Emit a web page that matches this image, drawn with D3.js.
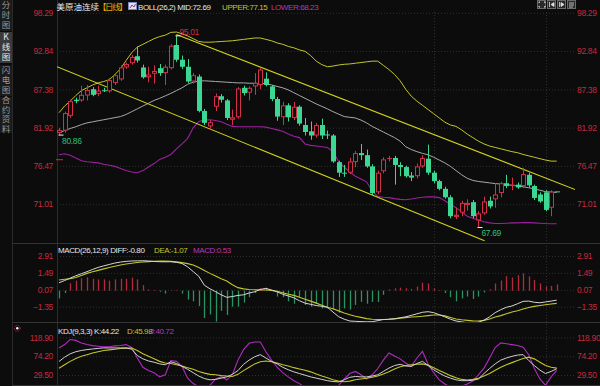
<!DOCTYPE html>
<html lang="zh">
<head>
<meta charset="UTF-8">
<title>美原油连续 日线</title>
<script src="https://d3js.org/d3.v7.min.js"></script>
<style>
  html, body { margin: 0; padding: 0; background: #0c0c0c; }
  svg { display: block; }
  text { font-family: "Liberation Sans", Arial, sans-serif; font-size: 8.5px; letter-spacing: -0.35px; }
  .ttl { font-size: 8px; letter-spacing: -0.4px; }
  .cjk { font-family: "Noto Sans CJK SC", sans-serif; letter-spacing: 0; }
  .vert { writing-mode: vertical-rl; text-orientation: upright; }
  .lbl .tick text { fill: #c8283c; }
  .lbl path, .lbl line { display: none; }
  .grid line { stroke: #2e2e2e; stroke-dasharray: 1,2; }
  .grid path { display: none; }
</style>
</head>
<body>
<svg id="chart" width="600" height="386"></svg>
<script>
// tick labels
const priceTicks = [98.29, 92.84, 87.38, 81.92, 76.47, 71.01];
const macdTicks = [2.91, 1.49, 0.07, -1.35];
const kdjTicks = [118.90, 74.20, 29.50];

// daily candles
const openP = [81.15,81.5,83.6,85.9,85.8,86.5,87.4,86.7,87.25,87.1, 88.3,88.8,90.5,91.1,92.1,90.5,89.1,89.6,90.4,89.7,
  90.4,93.7,91.6,90.6,88.5,89.2,84.3,82.1,84.9,86.4, 85.8,83.05,83.4,87.6,86.9,87.8,88.0,88.9,87.8,86.0,
  83.4,85.1,83.3,84.9,82.3,81.4,80.8,82.3,80.95,80.8, 77.0,75.5,75.5,77.0,78.3,78.0,76.4,72.7,75.7,77.5,
  77.6,76.6,76.3,75.1,75.0,76.4,77.5,75.5,74.3,73.2, 72.0,69.2,69.8,70.9,71.3,68.7,69.7,71.5,71.7,72.6,
  74.0,73.6,73.8,73.6,75.2,73.6,72.4,72.7,70.5,72.84];
const highP = [81.9,84.2,85.9,86.2,87.9,88.0,87.7,87.9,87.6,89.0, 89.6,90.8,91.2,92.3,93.5,90.9,90.6,90.8,91.0,90.9,
  93.8,95.01,92.2,91.7,89.7,89.5,84.6,83.0,86.8,86.7, 86.0,84.5,87.7,87.9,87.8,89.7,90.4,89.8,88.0,86.3,
  85.6,85.4,85.6,85.1,83.3,82.8,82.6,83.2,81.5,81.0, 77.2,76.6,77.6,78.6,79.6,78.8,76.7,75.8,77.7,77.9,
  77.9,77.0,76.5,75.6,76.8,78.0,79.5,75.8,74.5,73.5, 72.3,70.5,71.5,71.7,71.6,70.0,72.1,72.1,74.0,74.2,
  75.2,74.8,74.1,76.2,75.5,73.8,72.7,73.0,73.0,72.84];
const lowP = [80.86,81.2,83.3,85.4,85.6,85.8,86.4,86.4,87.0,86.9, 88.0,88.6,90.3,90.9,91.2,88.9,88.4,88.2,89.3,88.0,
  90.2,91.3,90.3,88.3,88.2,84.1,82.3,81.7,84.3,85.5, 83.0,82.3,83.2,86.5,85.8,86.6,87.4,87.8,85.7,82.9,
  82.3,82.8,83.0,82.2,80.8,80.2,80.5,80.3,80.3,76.9, 74.9,74.9,75.3,76.3,77.3,76.2,72.3,72.4,75.4,77.1,
  73.8,75.0,74.8,74.3,74.7,76.2,75.2,74.0,73.0,71.8, 69.0,68.9,69.3,70.1,69.0,67.69,69.5,70.4,70.5,72.0,
  73.3,73.0,73.2,73.3,73.4,71.6,71.2,70.0,69.3,72.84];
const closeP = [81.6,84.0,85.7,85.7,86.6,87.3,86.6,87.2,87.15,88.7, 89.4,90.5,91.0,92.0,91.5,89.1,89.5,90.0,89.7,90.6,
  93.6,91.6,90.6,88.5,89.4,84.3,82.6,82.7,86.4,85.9, 83.3,83.4,87.5,86.85,87.6,88.3,90.2,88.0,86.0,83.5,
  85.1,83.4,84.9,82.5,81.3,80.8,82.3,80.8,80.85,77.1, 75.5,75.4,77.1,78.3,78.0,76.4,72.6,75.5,77.4,77.6,
  76.6,76.3,75.0,74.8,76.4,77.6,75.5,74.3,73.2,72.0, 69.3,69.5,71.2,71.2,69.3,69.7,71.4,70.7,72.4,74.0,
  73.6,73.8,73.4,75.3,73.7,71.9,71.4,70.2,72.8,72.84];

// BOLL(26,2)
const bollUpper = [84.05,85.0,85.7,86.5,87.2,87.6,88.0,88.3,88.5,88.75, 89.5,90.3,91.5,92.6,93.4,93.8,94.2,94.6,94.9,95.1,
  95.5,95.55,95.3,95.0,94.6,94.2,94.1,94.1,94.15,94.2, 94.25,94.3,94.4,94.5,94.6,94.7,94.7,94.5,94.3,94.0,
  93.8,93.5,93.3,93.0,92.8,92.2,91.4,90.9,90.6,90.7, 90.85,90.95,91.0,91.1,91.2,91.3,91.4,91.4,90.8,90.2,
  89.5,88.6,87.4,86.4,85.7,85.1,84.5,83.9,83.3,82.7, 82.3,82.1,81.6,81.0,80.5,80.0,79.6,79.3,79.1,78.9,
  78.7,78.5,78.35,78.1,77.9,77.7,77.5,77.3,77.15,77.15];
const bollMid = [81.2,81.5,81.8,82.05,82.35,82.6,82.75,82.9,83.05,83.2, 83.35,83.5,83.8,84.2,84.6,85.0,85.4,85.8,86.1,86.45,
  86.8,87.2,87.6,88.1,88.4,88.55,88.6,88.55,88.5,88.45, 88.4,88.35,88.3,88.3,88.25,88.25,88.2,88.2,88.0,87.8,
  87.6,87.3,86.9,86.5,86.1,85.7,85.3,84.95,84.6,84.2, 83.85,83.5,83.4,83.3,83.0,82.6,82.1,81.7,81.3,80.9,
  80.5,80.0,79.2,78.8,78.5,78.25,78.05,77.7,77.3,76.9, 76.4,75.8,75.2,74.7,74.4,74.25,74.15,74.05,73.95,73.88,
  73.8,73.7,73.6,73.5,73.35,73.2,73.0,72.8,72.74,72.69];
const bollLower = [78.05,78.2,78.0,77.6,77.2,77.05,77.0,76.9,76.7,76.55, 76.4,76.1,75.8,75.6,75.5,75.8,76.3,76.8,77.4,77.7,
  78.1,78.9,79.6,80.4,81.9,82.8,83.0,83.05,82.95,82.75, 82.4,82.1,82.05,82.05,82.05,82.05,82.05,82.0,81.8,81.6,
  81.4,81.0,80.7,80.5,79.6,79.4,79.3,79.2,79.1,78.5, 77.1,76.3,75.6,75.0,74.6,74.2,72.9,72.1,72.0,71.95,
  71.8,71.7,71.65,71.75,71.9,72.0,72.05,72.05,71.95,71.5, 71.0,70.5,69.95,69.3,69.0,68.75,68.5,68.35,68.25,68.25,
  68.3,68.35,68.35,68.4,68.38,68.35,68.3,68.25,68.23,68.23];

// trend channel, [candle index, price] end points
const channelUpper = [[21, 95.2], [92.3, 73.1]];
const channelLower = [[-0.36, 90.6], [76.1, 65.8]];

// labelled extremes
const extremes = [
  { i: 21, v: 95.01, up: true },
  { i: 0, v: 80.86, up: false },
  { i: 75, v: 67.69, up: false }
];
const refMark = 77.35;      // small red tick on the left edge
const periodMarks = [67, 87]; // vertical dotted separators

// MACD(26,12,9)
const diffLine = [0.66,0.85,1.05,1.25,1.42,1.59,1.78,1.95,2.08,2.2, 2.32,2.4,2.46,2.49,2.5,2.51,2.49,2.45,2.43,2.42,
  2.43,2.38,2.28,2.0,1.6,1.2,0.45,0.15,-0.09,-0.35, -0.56,-0.5,-0.4,-0.35,-0.2,-0.09,0.1,0.19,0.05,-0.1,
  -0.3,-0.45,-0.6,-0.85,-1.05,-1.15,-1.25,-1.32,-1.4,-1.8, -2.19,-2.4,-2.55,-2.58,-2.6,-2.62,-2.61,-2.52,-2.43,-2.4,
  -2.36,-2.28,-2.2,-2.08,-1.95,-1.82,-1.77,-1.85,-2.02,-2.2, -2.4,-2.55,-2.62,-2.7,-2.75,-2.65,-2.48,-2.2,-1.85,-1.6,
  -1.4,-1.29,-1.1,-0.9,-0.88,-0.98,-1.02,-0.95,-0.88,-0.80];
const deaLine = [0.89,0.95,1.0,1.1,1.28,1.45,1.58,1.7,1.83,1.95, 2.05,2.15,2.24,2.3,2.36,2.41,2.44,2.47,2.48,2.49,
  2.46,2.42,2.35,2.27,2.15,1.95,1.7,1.45,1.22,1.0, 0.8,0.5,0.25,0.15,0.1,0.07,0.06,0.05,0.02,-0.05,
  -0.18,-0.3,-0.4,-0.55,-0.72,-0.88,-1.05,-1.22,-1.4,-1.52, -1.7,-1.88,-2.02,-2.15,-2.25,-2.35,-2.41,-2.42,-2.42,-2.41,
  -2.37,-2.32,-2.27,-2.22,-2.19,-2.15,-2.1,-2.05,-2.05,-2.12, -2.25,-2.38,-2.45,-2.5,-2.54,-2.55,-2.5,-2.38,-2.22,-2.1,
  -1.95,-1.8,-1.69,-1.55,-1.42,-1.32,-1.25,-1.18,-1.12,-1.07];
const macdHist = [-0.65,-0.2,0.62,0.84,1.04,1.12,1.0,0.95,0.95,0.84, 0.95,1.0,1.0,1.1,0.95,0.47,0.1,0.06,-0.1,-0.25,
  0.05,0.05,-0.25,-0.75,-0.9,-1.3,-2.3,-2.0,-2.6,-1.7, -2.05,-1.35,-1.35,-1.0,-0.55,-0.2,0.2,0.25,0.05,-0.5,
  -0.55,-0.9,-1.1,-0.55,-1.2,-1.35,-1.05,-1.5,-1.5,-1.6, -1.85,-1.5,-1.6,-1.2,-0.95,-1.1,-0.95,-0.95,-0.35,0.1,
  0.2,0.25,0.2,0.15,0.35,0.67,0.6,0.2,0.05,-0.2, -0.55,-0.9,-0.65,-0.5,-0.7,-0.5,-0.15,0.1,0.6,0.85,
  1.22,1.1,1.3,1.45,1.2,0.9,0.6,0.35,0.4,0.53];

// KDJ(9,3,3)
const kLine = [61.7,72,80,85,88,90,91.5,93,94,94, 94,94,94,91,76,68,63,60,56,54,
  61,57,50,43,35,27,21,18,19,22, 25,31,40,55,65,73,78,70,62,56,
  48,42,37,33,29,25,22,19,16,14, 13,18,24,26,25,25,27,30,38,46,
  52,55,51,50,57,62,52,42,34,27, 22,18,16,16,17,20,33,45,56,65,
  70,74,77,78,64,52,41,33,38,44.22];
const dLine = [45.7,54,62,69,74,78,82,85,88,89.5, 91,92.5,93.5,94,88,80,74,68,62,58,
  57,54,51,47,43,38,34,31,30,28, 27,26,31,40,48,56,61,63,61,58,
  54,51,47,44,41,37,32,27,23,18, 15,13.5,15,18,20,21.6,24,27,32,37,
  44,49,52,54,55,56,53,47,40,34, 28,23,19,17.5,19,21.6,27,33,41,48,
  54,59,64,69,72,68,60,52,48,45.98];
const jLine = [94,102,114,112,106,102,99.6,98,96.5,97, 99,100,102,95,70,48,40,35,25,30,
  64,62,50,22,9,2,-2,5,20,25, 18,30,65,90,105,108,108,85,65,48,
  35,25,16,9,0,-4,-6,-4,-3,0, 5,20,33,38,30,20,30,45,65,82,
  75,68,58,50,70,86,55,35,18,8, 1,-2,3,8,15,30,46,70,95,106,
  104,102,100,96,78,45,20,5,25,40.72];

const sideTabs = ["分时图", "K线图", "闪电图", "合约资料"];
const activeTab = 1;

// colours
const BG = "#0c0c0c", RED = "#d3304a", GREEN = "#3cd893";
const YEL = "#c4c42a", MIDC = "#a8a8a8", PUR = "#9a229c";

const svg = d3.select("#chart");
const plotL = 57, plotR = 575;

svg.append("rect").attr("width", 600).attr("height", 386).attr("fill", BG);

// scales
const x = d3.scaleLinear().domain([0, 89]).range([59, 556.7]);
const cx = i => Math.round(x(i)) + 0.5;
const y = d3.scaleLinear().domain([71.01, 98.29]).range([204.2, 12.8]);
const ym = d3.scaleLinear().domain([-1.35, 2.91]).range([306.7, 256]);
const yk = d3.scaleLinear().domain([29.5, 118.9]).range([375, 337.5]);

// clip regions
const defs = svg.append("defs");
[["cPrice", 12, 243], ["cMacd", 244, 322], ["cKdj", 323, 385]].forEach(([id, t, b]) => {
  defs.append("clipPath").attr("id", id).append("rect")
    .attr("x", plotL).attr("y", t).attr("width", plotR - plotL).attr("height", b - t);
});

// sidebar: vertical tab labels
const side = svg.append("g");
const tabTop = [0, 32, 65, 97], tabBot = [31, 63, 96, 133];
sideTabs.forEach((name, t) => {
  side.append("rect").attr("x", 0).attr("y", tabTop[t]).attr("width", 12)
    .attr("height", tabBot[t] - tabTop[t]).attr("fill", t === activeTab ? "#3a3a3a" : "#1b1b1b");
  const long = Array.from(name).length > 3;
  side.append("text").attr("class", "cjk vert")
    .attr("x", 6).attr("y", (tabTop[t] + tabBot[t]) / 2)
    .attr("text-anchor", "middle").attr("font-size", long ? 7.4 : 8)
    .style("letter-spacing", long ? "1.1px" : "1.6px")
    .attr("fill", t === activeTab ? "#e8e8e8" : "#9a9a9a").text(name);
});
svg.append("line").attr("x1", 12.5).attr("x2", 12.5).attr("y1", 0).attr("y2", 386).attr("stroke", "#2a2a2a");

// panel frames
svg.append("line").attr("x1", plotL + 0.5).attr("x2", plotL + 0.5).attr("y1", 0).attr("y2", 386).attr("stroke", "#2c2c2c");
[243.5, 322.5, 385.5].forEach(v => {
  svg.append("line").attr("x1", 12).attr("x2", 600).attr("y1", v).attr("y2", v).attr("stroke", "#333");
});

// grid lines
const gw = plotR - plotL;
svg.append("g").attr("class", "grid").attr("transform", `translate(${plotL},0)`)
  .call(d3.axisLeft(y).tickValues(priceTicks).tickSize(-gw).tickFormat(""));
svg.append("g").attr("class", "grid").attr("transform", `translate(${plotL},0)`)
  .call(d3.axisLeft(ym).tickValues(macdTicks).tickSize(-gw).tickFormat(""));
svg.append("g").attr("class", "grid").attr("transform", `translate(${plotL},0)`)
  .call(d3.axisLeft(yk).tickValues(kdjTicks).tickSize(-gw).tickFormat(""));
svg.append("g").selectAll("line").data(periodMarks).join("line")
  .attr("x1", d => cx(d)).attr("x2", d => cx(d)).attr("y1", 12).attr("y2", 385)
  .attr("stroke", "#2e2e2e").attr("stroke-dasharray", "1,2");

// axis labels, both sides
const f2 = d3.format(".2f");
[[y, priceTicks], [ym, macdTicks], [yk, kdjTicks]].forEach(([sc, tv]) => {
  svg.append("g").attr("class", "lbl").attr("transform", "translate(53,0)")
    .call(d3.axisLeft(sc).tickValues(tv).tickSize(0).tickPadding(0).tickFormat(f2));
  svg.append("g").attr("class", "lbl").attr("transform", "translate(577,0)")
    .call(d3.axisRight(sc).tickValues(tv).tickSize(0).tickPadding(0).tickFormat(f2));
});

// ---- price panel ----
const gp = svg.append("g").attr("clip-path", "url(#cPrice)");
const line = (sc) => d3.line().x((d, i) => x(i)).y(d => sc(d));

gp.append("path").attr("d", line(y)(bollUpper)).attr("fill", "none").attr("stroke", YEL).attr("stroke-width", 1);
gp.append("path").attr("d", line(y)(bollMid)).attr("fill", "none").attr("stroke", MIDC).attr("stroke-width", 1);
gp.append("path").attr("d", line(y)(bollLower)).attr("fill", "none").attr("stroke", PUR).attr("stroke-width", 1.1);

const chLine = d3.line().x(d => x(d[0])).y(d => y(d[1]));
[channelUpper, channelLower].forEach(c => {
  gp.append("path").attr("d", chLine(c)).attr("fill", "none").attr("stroke", "#d2d21c").attr("stroke-width", 1.1);
});

const candles = d3.range(openP.length).map(i => ({ i, o: openP[i], h: highP[i], l: lowP[i], c: closeP[i] }));
const up = d => d.c > d.o;
gp.append("g").selectAll("line").data(candles).join("line")
  .attr("x1", d => cx(d.i)).attr("x2", d => cx(d.i))
  .attr("y1", d => y(d.h)).attr("y2", d => y(d.l))
  .attr("stroke", d => up(d) ? RED : GREEN).attr("stroke-width", 1);
gp.append("g").selectAll("rect").data(candles).join("rect")
  .each(function (d) {
    const top = y(Math.max(d.o, d.c)), bot = y(Math.min(d.o, d.c));
    const h = bot - top;
    const r = d3.select(this);
    if (up(d) && h > 2) {
      r.attr("x", cx(d.i) - 2).attr("width", 4).attr("y", top + 0.5).attr("height", h - 1)
        .attr("fill", BG).attr("stroke", RED).attr("stroke-width", 1);
    } else {
      r.attr("x", cx(d.i) - 2.5).attr("width", 5).attr("y", top).attr("height", Math.max(1, h))
        .attr("fill", up(d) ? RED : GREEN);
    }
  });

// extremes
const ex = svg.append("g");
ex.selectAll("line").data(extremes).join("line")
  .attr("x1", d => cx(d.i) - 1).attr("x2", d => cx(d.i) + 4)
  .attr("y1", d => y(d.v)).attr("y2", d => y(d.v)).attr("stroke", "#f0f0f0").attr("stroke-width", 1);
ex.selectAll("text").data(extremes).join("text")
  .attr("x", d => x(d.i) + 3).attr("y", d => d.up ? y(d.v) - 1 : y(d.v) + 8.6)
  .attr("fill", d => d.up ? "#d8283f" : "#2fbf78").text(d => f2(d.v));
svg.append("line").attr("x1", 56).attr("x2", 63).attr("y1", y(refMark)).attr("y2", y(refMark))
  .attr("stroke", "#d8283f").attr("stroke-width", 1);

// ---- MACD panel ----
const gm = svg.append("g").attr("clip-path", "url(#cMacd)");
gm.append("g").selectAll("line").data(macdHist).join("line")
  .attr("x1", (d, i) => cx(i)).attr("x2", (d, i) => cx(i))
  .attr("y1", ym(0)).attr("y2", d => ym(d))
  .attr("stroke", d => d >= 0 ? "#b22a3c" : "#2a9460").attr("stroke-width", 1.3);
gm.append("path").attr("d", line(ym)(deaLine)).attr("fill", "none").attr("stroke", YEL).attr("stroke-width", 1.1);
gm.append("path").attr("d", line(ym)(diffLine)).attr("fill", "none").attr("stroke", "#d6d6d6").attr("stroke-width", 1);

// ---- KDJ panel ----
const gk = svg.append("g").attr("clip-path", "url(#cKdj)");
gk.append("path").attr("d", line(yk)(jLine)).attr("fill", "none").attr("stroke", "#b02cbf").attr("stroke-width", 1.1);
gk.append("path").attr("d", line(yk)(dLine)).attr("fill", "none").attr("stroke", YEL).attr("stroke-width", 1.1);
gk.append("path").attr("d", line(yk)(kLine)).attr("fill", "none").attr("stroke", "#d0d0d0").attr("stroke-width", 1);

// ---- titles ----
const title = (xx, yy, txt, col, cls) =>
  svg.append("text").attr("x", xx).attr("y", yy).attr("fill", col).attr("class", cls || "ttl").text(txt);
title(56.5, 9.5, "美原油连续", "#e6e6e6", "cjk").attr("font-size", 8);
title(98, 9.5, "【日线】", "#e8a800", "cjk").attr("font-size", 6.5).style("letter-spacing", "-1.5px");
// BOLL icon
svg.append("rect").attr("x", 128.5).attr("y", 2.5).attr("width", 8).attr("height", 7)
  .attr("fill", "#dfe4f4").attr("stroke", "#7a86c8");
svg.append("path").attr("d", "M130,8 L132,5 L134,7 L135.5,4").attr("fill", "none").attr("stroke", "#c0303c").attr("stroke-width", 1);
title(138, 9.5, "BOLL(26,2) MID:72.69", "#e6e6e6");
title(222, 9.5, "UPPER:77.15", YEL);
title(271, 9.5, "LOWER:68.23", "#b83ab8");

title(58, 252.5, "MACD(26,12,9) DIFF:-0.80", "#e6e6e6");
title(154, 252.5, "DEA:-1.07", YEL);
title(193, 252.5, "MACD:0.53", "#b83ab8");

title(58, 334, "KDJ(9,3,3) K:44.22", "#e6e6e6");
title(127, 334, "D:45.98", YEL);
title(150, 334, "J:40.72", "#b83ab8");

// indicator icon near KDJ
svg.append("circle").attr("cx", 17.3).attr("cy", 328.3).attr("r", 2.8)
  .attr("fill", "none").attr("stroke", "#d83040").attr("stroke-dasharray", "1,1");
svg.append("circle").attr("cx", 17.3).attr("cy", 328.3).attr("r", 1.2).attr("fill", "#ffffff");

// toolbar buttons, top right
const btnX = [537, 547, 557, 567];
const btn = svg.append("g");
btnX.forEach((bx, k) => {
  btn.append("rect").attr("x", bx + 0.5).attr("y", 0.5).attr("width", 8).attr("height", 8)
    .attr("fill", "#2a2a2a").attr("stroke", "#6a6a6a");
});
btn.append("path").attr("d", "M539,3 L539,2 L540,2 M544,2 L545,2 L545,3 M539,6 L539,7 L540,7 M544,7 L545,7 L545,6")
  .attr("stroke", "#ddd").attr("fill", "none");
btn.append("path").attr("d", "M549.5,2 L549.5,7 M551,4.5 L554,2.5 L554,6.5 Z").attr("stroke", "#ddd").attr("fill", "#ddd").attr("stroke-width", 0.8);
btn.append("path").attr("d", "M559.5,2 L559.5,7 M561,2.5 L564,4.5 L561,6.5 Z").attr("stroke", "#ddd").attr("fill", "#ddd").attr("stroke-width", 0.8);
btn.append("path").attr("d", "M569,3 L574,3 M569,5 L574,5 M569,7 L573,7").attr("stroke", "#ddd").attr("stroke-width", 0.8);
</script>
</body>
</html>
